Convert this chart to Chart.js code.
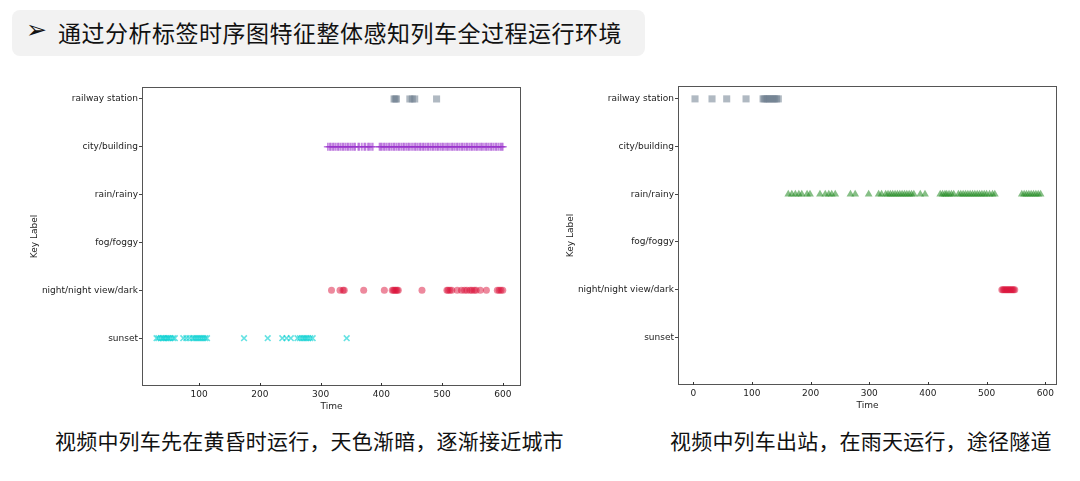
<!DOCTYPE html>
<html>
<head>
<meta charset="utf-8">
<script src="https://cdn.jsdelivr.net/npm/chart.js@4/dist/chart.umd.min.js"></script>
<style>
  body { margin: 0; width: 1080px; height: 481px; background: #fff; position: relative; overflow: hidden;
         font-family: "Noto Sans CJK SC", "Noto Sans", sans-serif; }
  .header { position: absolute; left: 12px; top: 10px; width: 633px; height: 46px; background: #f2f2f2;
            border-radius: 8px; }
  .header .arrow { position: absolute; left: 14px; top: 3px; font-size: 25px; color: #111; font-family: "DejaVu Sans", sans-serif; line-height: 34px; }
  .header .txt { position: absolute; left: 46px; top: 5px; font-size: 23px; letter-spacing: 0.5px; color: #111; line-height: 34px; }
  .box { position: absolute; }
  .caption { position: absolute; top: 424px; font-size: 21px; letter-spacing: 0.2px; color: #111; line-height: 32px; white-space: nowrap; }
</style>
</head>
<body>
<div class="header"><span class="arrow">➢</span><span class="txt">通过分析标签时序图特征整体感知列车全过程运行环境</span></div>
<div class="box" style="left:0px;top:80px;width:530px;height:335px"><canvas id="leftChart"></canvas></div>
<div class="box" style="left:540px;top:81px;width:530px;height:333px"><canvas id="rightChart"></canvas></div>
<div class="caption" style="left:55px">视频中列车先在黄昏时运行，天色渐暗，逐渐接近城市</div>
<div class="caption" style="left:670px">视频中列车出站，在雨天运行，途径隧道</div>
<script>
// y categories, bottom to top
const categories = ['sunset', 'night/night view/dark', 'fog/foggy', 'rain/rainy', 'city/building', 'railway station'];
const xTicks = [0, 100, 200, 300, 400, 500, 600];

// left chart: times per label
const leftStation = [421, 423, 425, 447, 451, 455, 491];
const leftCity = [312, 315, 317, 320, 322, 325, 328, 330, 333, 336, 338, 341, 344, 346, 349, 352, 355, 357, 362, 364,
  368, 372, 374, 378, 380, 383, 386, 397, 399, 401, 404, 406, 409, 412, 414, 417, 420, 422, 425, 428, 430, 433, 436,
  438, 441, 444, 446, 449, 452, 455, 457, 460, 463, 465, 468, 470, 473, 476, 478, 481, 484, 486, 489, 492, 494, 497,
  500, 502, 505, 508, 510, 513, 516, 518, 521, 524, 526, 529, 532, 534, 537, 540, 542, 545, 548, 550, 553, 556, 558,
  561, 564, 566, 569, 572, 574, 577, 580, 582, 585, 588, 590, 593, 596, 598, 600];
const leftNight = [318, 332, 337, 339, 371, 405, 418, 420, 422, 424, 426, 428, 467, 508, 510, 513, 516, 525, 532, 537,
  541, 546, 549, 553, 556, 563, 573, 591, 594, 597, 600];
const leftSunset = [30, 33, 37, 40, 42, 45, 48, 50, 53, 57, 60, 74, 79, 84, 89, 92, 95, 98, 101, 104, 107, 110, 113,
  174, 213, 237, 244, 251, 262, 266, 270, 273, 276, 279, 283, 287, 343];

// right chart: times per label
const rightStation = [3, 32, 57, 90, 119, 121, 124, 127, 130, 133, 136, 139, 142, 145];
const rightRain = [162, 168, 174, 180, 185, 194, 199, 216, 225, 231, 236, 242, 268, 276, 299, 316, 321, 328, 332, 336,
  340, 344, 348, 352, 356, 360, 364, 368, 372, 376, 387, 395, 421, 425, 429, 432, 436, 440, 444, 452, 456, 460, 464,
  468, 472, 476, 480, 484, 488, 492, 496, 500, 505, 510, 514, 560, 564, 568, 572, 576, 580, 584, 588, 592];
const rightNight = [526, 528, 530, 532, 534, 536, 538, 540, 542, 544, 546, 548];

function pts(times, label) {
  const y = categories.indexOf(label);
  return times.map(t => ({ x: t, y: y }));
}

const styles = {
  station: { pointStyle: 'rect', pointRadius: 5, backgroundColor: 'rgba(112,128,144,0.55)', borderWidth: 0 },
  city: { pointStyle: 'cross', pointRadius: 4, borderColor: 'rgba(153,50,204,0.6)', borderWidth: 1.6 },
  night: { pointStyle: 'circle', pointRadius: 3.5, backgroundColor: 'rgba(220,20,60,0.5)', borderWidth: 0 },
  sunset: { pointStyle: 'crossRot', pointRadius: 4, borderColor: 'rgba(0,206,209,0.6)', borderWidth: 1.6 },
  rain: { pointStyle: 'triangle', pointRadius: 4.5, backgroundColor: 'rgba(34,139,34,0.55)', borderWidth: 0 },
};

// frame around plot area + inward ticks on x axis (matplotlib look)
const framePlugin = {
  id: 'frame',
  afterDraw(chart) {
    const { ctx, chartArea: a, scales } = chart;
    ctx.save();
    ctx.strokeStyle = '#555';
    ctx.lineWidth = 1;
    ctx.strokeRect(a.left + 0.5, a.top + 0.5, a.right - a.left - 1, a.bottom - a.top - 1);
    ctx.strokeStyle = '#333';
    scales.x.ticks.forEach(t => {
      const px = Math.round(scales.x.getPixelForValue(t.value)) + 0.5;
      ctx.beginPath();
      ctx.moveTo(px, a.bottom);
      ctx.lineTo(px, a.bottom - 3);
      ctx.stroke();
    });
    ctx.restore();
  }
};

function makeChart(id, datasets, xMin, xMax, yMax, pad) {
  const tickFont = { family: 'DejaVu Sans', size: 9 };
  new Chart(document.getElementById(id), {
    type: 'scatter',
    data: { datasets: datasets },
    options: {
      responsive: true,
      maintainAspectRatio: false,
      animation: false,
      layout: { padding: pad },
      plugins: { legend: { display: false }, tooltip: { enabled: false } },
      scales: {
        x: {
          type: 'linear', min: xMin, max: xMax,
          afterBuildTicks: axis => { axis.ticks = xTicks.filter(v => v >= xMin && v <= xMax).map(v => ({ value: v })); },
          afterFit: axis => { axis.height = 29; axis.paddingLeft = 0; axis.paddingRight = 0; },
          grid: { display: false, drawTicks: false },
          border: { display: false },
          ticks: { font: tickFont, color: '#222', padding: 3, maxRotation: 0 },
          title: { display: true, text: 'Time', font: tickFont, color: '#222', padding: { top: 0, bottom: 3 } }
        },
        y: {
          type: 'linear', min: -1, max: yMax,
          afterBuildTicks: axis => { axis.ticks = categories.map((c, i) => ({ value: i })); },
          afterFit: axis => { axis.width = 113; axis.paddingTop = 0; axis.paddingBottom = 0; },
          grid: { drawOnChartArea: false, drawTicks: true, tickLength: 3, color: '#444' },
          border: { display: false },
          ticks: { font: tickFont, color: '#222', padding: 1, callback: v => categories[v] },
          title: { display: true, text: 'Key Label', font: tickFont, color: '#222', padding: { top: 0, bottom: 0 } }
        }
      }
    },
    plugins: [framePlugin]
  });
}

makeChart('leftChart', [
  Object.assign({ data: pts(leftSunset, 'sunset') }, styles.sunset),
  Object.assign({ data: pts(leftNight, 'night/night view/dark') }, styles.night),
  Object.assign({ data: pts(leftCity, 'city/building') }, styles.city),
  Object.assign({ data: pts(leftStation, 'railway station') }, styles.station),
], 6, 630, 5.25, { left: 29, top: 7, right: 9, bottom: 0 });

makeChart('rightChart', [
  Object.assign({ data: pts(rightNight, 'night/night view/dark') }, styles.night),
  Object.assign({ data: pts(rightRain, 'rain/rainy') }, styles.rain),
  Object.assign({ data: pts(rightStation, 'railway station') }, styles.station),
], -26, 620, 5.27, { left: 25, top: 3, right: 13, bottom: 0 });
</script>
</body>
</html>
